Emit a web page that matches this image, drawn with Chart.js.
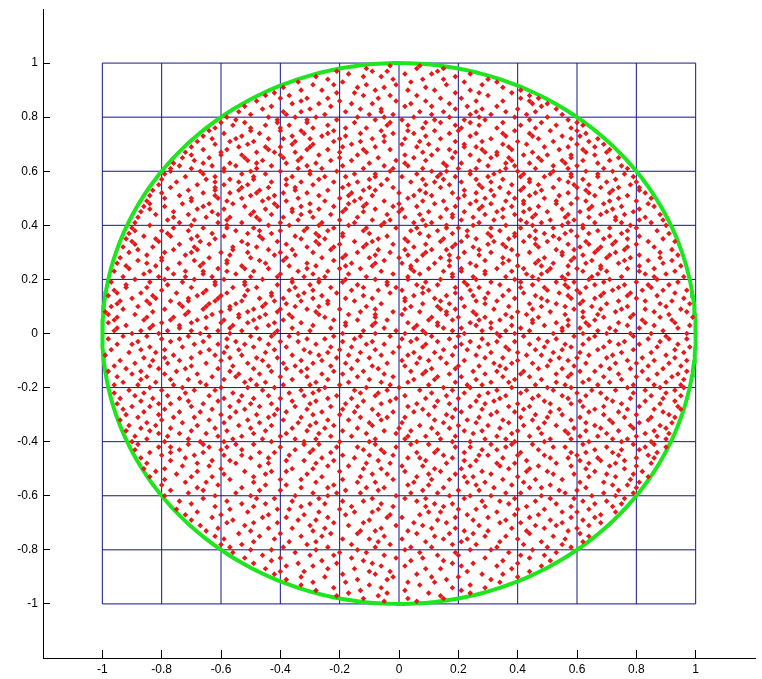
<!DOCTYPE html>
<html><head><meta charset="utf-8">
<script src="https://cdn.jsdelivr.net/npm/chart.js@4/dist/chart.umd.min.js"></script>
<style>html,body{margin:0;padding:0;background:#fff;overflow:hidden}canvas{display:block}</style>
</head><body>
<canvas id="c" width="762" height="679"></canvas>
<script>
// axis / tick values
const axisMin = -1.2, axisMax = 1.2;
const tickValues = [-1, -0.8, -0.6, -0.4, -0.2, 0, 0.2, 0.4, 0.6, 0.8, 1];
// grid lines drawn from -1 to 1
const gridValues = [-1, -0.8, -0.6, -0.4, -0.2, 0, 0.2, 0.4, 0.6, 0.8, 1];
const gridSpan = [-1, 1];
// circle
const circleRadius = 1;
// scatter dots: each row = [y, x1, x2, ...] in hundredths
const dotRows = [
[99,-3,7],
[98,-11,6,15],
[97,-21,-9,-4,13],
[96,-17,2,11,24],
[95,-28,-12,-6,19],
[94,-24,-2,8,15,30],
[93,-34,-19,4,22,33],
[92,-29,-22,-11,-1,16,28],
[91,-39,-14,-5,9,35],
[90,-33,-26,-8,3,12,24,41],
[89,-42,-21,-15,19,27,38],
[88,-45,-37,-12,-3,6,30,44],
[87,-40,-31,-24,-7,14,21,41,47],
[86,-48,-33,-20,-1,9,26,35,44],
[85,-36,-27,-16,-9,4,17,45,50],
[84,-52,-43,-23,2,11,23,33,48],
[83,-46,-30,-13,-6,19,28,40,53],
[82,-54,-39,-33,-18,-6,7,15,26,36,46],
[81,-50,-38,-25,-10,-2,11,24,31,43,55],
[80,-58,-44,-35,-28,-14,-5,5,17,27,39,50],
[79,-55,-41,-31,-21,-8,1,12,22,29,44,57],
[78,-60,-52,-41,-31,-15,-3,9,14,24,35,48,60],
[77,-56,-45,-37,-24,-4,3,19,27,41,53,62],
[76,-62,-50,-40,-29,-18,-11,8,21,33,46,58],
[75,-64,-50,-40,-33,-22,-6,3,12,20,39,51,60],
[74,-59,-47,-32,-24,-13,-2,5,17,26,35,44,63],
[73,-66,-53,-36,-26,-18,-5,9,24,36,45,55,61],
[72,-63,-55,-44,-39,-30,-20,-9,2,14,31,47,58,67],
[71,-68,-57,-49,-35,-22,-13,-5,7,19,28,40,52,64],
[70,-62,-51,-36,-29,-16,1,10,22,35,43,60,69],
[69,-70,-54,-45,-40,-30,-19,-8,6,22,26,37,49,57,66],
[68,-66,-58,-44,-31,-24,-12,-3,13,17,28,38,54,62,71],
[67,-72,-60,-48,-42,-35,-20,-11,8,19,29,33,45,63,70],
[66,-70,-60,-53,-40,-27,-14,2,11,24,33,42,50,58,66],
[65,-73,-64,-52,-39,-33,-20,-7,5,18,31,37,47,58,74],
[64,-69,-51,-46,-34,-23,-16,-1,9,27,38,48,55,62,71],
[63,-76,-66,-57,-48,-38,-28,-10,2,15,21,36,44,56,67],
[62,-74,-63,-55,-43,-31,-19,-5,3,16,30,39,52,60,75],
[61,-77,-70,-59,-48,-34,-26,-12,-2,8,20,26,36,46,57,69,77],
[60,-77,-67,-59,-50,-40,-30,-21,-3,11,16,24,34,40,52,63,72],
[59,-79,-66,-53,-45,-30,-15,-8,6,14,24,32,42,51,58,67,76],
[58,-72,-62,-49,-36,-25,-18,-8,1,13,19,30,41,49,58,67,79],
[57,-80,-65,-57,-49,-38,-27,-10,-4,8,15,26,35,44,54,62,73],
[56,-75,-62,-54,-43,-33,-22,-14,4,12,21,31,44,57,70,80],
[55,-81,-68,-59,-51,-38,-29,-17,-6,9,17,27,38,47,59,64,78],
[54,-77,-62,-53,-44,-35,-19,-10,-2,14,28,34,42,52,60,68,74,81],
[53,-83,-71,-62,-54,-47,-35,-24,-12,-8,7,22,31,41,48,63,72,81],
[52,-80,-66,-57,-48,-39,-31,-16,0,9,18,26,37,46,57,64,71,83],
[51,-84,-74,-62,-50,-42,-27,-17,-9,5,11,22,32,44,54,66,77],
[50,-79,-70,-61,-53,-44,-34,-20,-13,3,20,29,39,49,60,74,85],
[49,-85,-70,-58,-46,-38,-25,-15,-5,8,15,26,36,42,53,63,71,80],
[48,-84,-73,-64,-56,-42,-30,-17,-11,0,12,24,31,42,53,58,69,84],
[47,-86,-79,-66,-52,-41,-33,-22,-12,-2,6,19,28,38,47,65,75,86],
[46,-84,-68,-59,-45,-36,-27,-18,-8,1,16,27,35,44,55,64,72,81],
[45,-87,-76,-63,-49,-36,-30,-19,-12,0,10,22,33,42,50,61,70,79],
[44,-82,-71,-61,-50,-43,-33,-23,-4,7,18,29,39,46,57,68,76,88],
[43,-88,-76,-65,-57,-48,-39,-29,-14,2,14,18,25,35,45,56,64,73,83],
[42,-78,-69,-58,-47,-34,-20,-9,-3,8,21,32,41,51,59,73,81,89],
[41,-89,-74,-61,-53,-40,-26,-15,-5,5,11,27,43,48,57,66,75,85],
[40,-84,-70,-58,-44,-37,-27,-17,-6,9,16,25,36,45,55,62,78,90],
[39,-90,-76,-66,-58,-49,-31,-22,-11,-1,6,16,20,31,41,52,62,71,80],
[38,-89,-80,-71,-55,-47,-40,-32,-24,-12,4,13,23,34,46,58,67,77,87],
[37,-91,-78,-63,-51,-43,-28,-19,-10,7,18,30,39,49,56,64,75,91],
[36,-86,-77,-68,-59,-47,-35,-27,-19,-4,10,23,31,39,44,52,60,71,81],
[35,-92,-82,-70,-62,-46,-33,-25,-7,2,15,26,37,46,54,69,77,89],
[34,-90,-81,-67,-53,-41,-28,-15,-9,3,14,21,32,42,50,63,73,84,93],
[33,-89,-74,-64,-51,-38,-27,-20,-11,-2,9,19,30,35,46,57,64,72,80],
[32,-93,-83,-69,-56,-48,-31,-22,-12,5,18,25,36,47,61,68,77,86],
[31,-88,-76,-68,-56,-44,-36,-23,-7,2,11,16,27,38,53,59,67,76,92],
[30,-91,-79,-70,-60,-51,-40,-29,-14,-3,9,22,31,44,55,66,73,88],
[29,-85,-72,-57,-42,-35,-18,-8,3,8,17,27,40,55,62,71,81,94],
[28,-94,-80,-64,-50,-38,-26,-19,-10,0,14,20,35,49,59,70,78,88],
[27,-88,-80,-69,-58,-47,-39,-22,-5,6,17,29,37,47,58,65,76,84,92],
[26,-95,-85,-74,-66,-58,-45,-31,-16,-8,1,12,24,35,46,52,63,74,89],
[25,-92,-82,-67,-53,-37,-28,-18,-9,4,17,26,40,48,57,68,81,95],
[24,-91,-78,-61,-52,-44,-31,-20,-13,4,10,21,33,42,51,60,68,77,86],
[23,-96,-84,-72,-66,-58,-49,-34,-24,-6,5,15,21,29,38,50,62,70,81,93],
[22,-86,-76,-66,-55,-40,-29,-17,-2,7,18,29,43,48,57,67,83,90],
[21,-93,-81,-72,-63,-50,-41,-32,-25,-11,3,18,25,36,45,55,65,75,86,96],
[20,-89,-79,-69,-59,-46,-36,-27,-18,-8,3,14,26,39,47,56,64,71,87],
[19,-97,-84,-73,-62,-52,-36,-27,-19,-4,9,22,31,41,53,59,69,80,94],
[18,-92,-78,-62,-52,-41,-30,-14,-4,6,13,23,34,45,56,66,76,84,91],
[17,-92,-85,-70,-56,-48,-35,-23,-12,-1,8,19,27,41,49,57,63,74,85],
[16,-96,-80,-65,-51,-37,-29,-16,-7,1,10,24,37,50,60,72,82,89,97],
[15,-95,-87,-75,-66,-58,-43,-32,-21,-3,8,19,30,42,54,61,69,78,93],
[14,-98,-83,-68,-60,-52,-43,-34,-26,-12,5,16,25,35,46,57,68,77,87],
[13,-90,-82,-71,-61,-47,-39,-29,-18,-9,2,12,21,29,39,48,58,66,80,96],
[12,-94,-85,-77,-71,-62,-53,-42,-33,-24,-15,2,14,26,33,50,62,74,83,92],
[11,-95,-84,-74,-64,-55,-45,-38,-24,-6,8,17,29,44,53,61,70,88,98],
[10,-97,-88,-73,-65,-57,-46,-35,-27,-11,4,13,22,37,48,56,65,77,90],
[9,-93,-79,-66,-57,-49,-40,-31,-20,-8,2,14,19,32,45,59,68,75,83,95],
[8,-99,-83,-71,-60,-51,-41,-28,-13,-2,7,16,25,40,51,62,73,86,97],
[7,-98,-89,-72,-63,-54,-45,-37,-27,-17,-8,1,16,26,36,43,56,67,79,91],
[6,-95,-85,-76,-65,-54,-47,-36,-25,-8,11,20,29,38,47,62,69,78,88,99],
[5,-96,-86,-77,-68,-59,-49,-39,-22,-14,-4,10,18,27,34,45,57,66,82,92],
[4,-98,-80,-70,-60,-51,-42,-33,-18,-8,3,13,24,31,45,53,63,74,83,93],
[3,-92,-83,-74,-56,-44,-29,-18,-9,6,13,26,38,49,57,64,77,86,98],
[2,-95,-84,-74,-65,-57,-48,-36,-23,-5,5,15,21,31,41,55,61,71,81,94],
[1,-96,-87,-78,-70,-61,-53,-41,-30,-12,-1,8,18,28,36,44,55,67,73,89],
[0,-90,-81,-67,-57,-42,-34,-19,-8,2,9,22,33,39,52,62,70,78,85,97],
[-1,-93,-85,-71,-64,-50,-43,-37,-22,-13,-3,11,20,34,42,59,66,79,90],
[-2,-98,-80,-74,-58,-47,-31,-25,-15,1,6,17,28,47,53,64,84,91,97],
[-3,-88,-77,-66,-55,-40,-34,-19,-9,4,13,24,33,39,50,71,76,88],
[-4,-95,-90,-69,-61,-52,-44,-28,-11,-5,9,21,30,44,56,62,74,81,94],
[-5,-84,-73,-58,-49,-38,-23,-16,0,8,19,27,36,49,58,69,87,98],
[-6,-97,-87,-79,-64,-54,-42,-32,-20,-8,15,23,37,46,55,67,79,93],
[-7,-91,-82,-67,-59,-45,-30,-24,-13,-2,5,12,31,40,52,61,75,85,96],
[-8,-99,-76,-62,-53,-36,-27,-17,-6,3,18,26,43,48,64,72,90],
[-9,-86,-79,-70,-57,-48,-41,-21,-10,7,14,29,35,54,60,70,82,93],
[-10,-94,-83,-74,-60,-46,-33,-26,-14,1,10,22,40,51,57,77,86,97],
[-11,-89,-78,-65,-51,-39,-29,-18,-4,6,16,32,38,45,63,73,80,91],
[-12,-96,-84,-70,-56,-44,-35,-23,-9,2,20,27,34,50,59,68,84,95],
[-13,-92,-81,-72,-61,-49,-38,-31,-16,-7,11,19,36,47,55,71,78,89],
[-14,-98,-87,-75,-57,-43,-33,-22,-12,4,9,25,33,42,61,66,82,97],
[-15,-90,-79,-68,-54,-47,-26,-19,-5,8,17,29,41,53,58,74,87,94],
[-16,-95,-85,-63,-55,-40,-31,-14,-2,13,21,35,44,57,69,80,92],
[-17,-87,-77,-71,-59,-50,-36,-24,-10,5,12,26,39,48,64,75,84,96],
[-18,-93,-82,-67,-52,-45,-28,-17,-6,3,19,31,37,53,62,71,90],
[-19,-96,-88,-76,-65,-48,-39,-30,-20,-3,10,23,28,46,56,67,79,86,95],
[-20,-84,-73,-60,-51,-42,-25,-11,0,15,24,38,50,58,77,88,96],
[-21,-91,-80,-69,-62,-46,-33,-27,-15,-4,7,18,33,43,52,65,73,83,93],
[-22,-96,-86,-72,-56,-37,-29,-13,-7,11,22,30,41,60,68,79,90],
[-23,-89,-78,-64,-53,-44,-32,-21,-8,2,16,27,36,47,55,63,85,95],
[-24,-94,-83,-74,-59,-49,-40,-24,-16,-1,9,20,34,45,57,70,78,89],
[-25,-87,-71,-61,-54,-36,-28,-12,-3,13,26,32,49,61,72,83,93],
[-26,-95,-81,-77,-66,-50,-43,-30,-18,-6,6,17,29,40,51,58,75,88],
[-27,-90,-84,-70,-57,-47,-35,-23,-14,3,12,24,37,44,62,69,81,94],
[-28,-93,-79,-63,-52,-41,-31,-19,-9,8,19,28,42,54,66,77,86,95],
[-29,-86,-74,-67,-55,-38,-26,-15,-2,5,21,33,39,51,64,74,89],
[-30,-92,-81,-60,-48,-42,-29,-20,-7,10,16,31,46,55,69,80,91],
[-31,-88,-76,-69,-57,-44,-33,-13,-4,2,18,27,41,50,61,76,85,93],
[-32,-94,-80,-64,-51,-39,-24,-17,-6,12,23,35,45,58,71,84],
[-33,-85,-73,-59,-47,-34,-28,-10,1,15,26,37,49,63,72,81,92],
[-34,-91,-82,-68,-54,-43,-30,-22,-9,7,20,30,42,53,66,78,88],
[-35,-87,-77,-62,-50,-36,-25,-14,0,11,17,34,47,59,68,79,90],
[-36,-92,-84,-70,-58,-45,-31,-19,-5,4,22,28,40,56,63,74,86],
[-37,-81,-74,-65,-49,-38,-27,-11,-1,13,25,38,48,57,70,83,91],
[-38,-89,-78,-61,-53,-40,-23,-16,3,9,19,33,44,61,67,80,87],
[-39,-85,-71,-56,-46,-35,-28,-8,2,14,29,36,51,58,72,77,90],
[-40,-90,-79,-67,-59,-43,-32,-20,-10,6,18,24,39,49,64,75,85],
[-41,-88,-71,-66,-55,-49,-32,-27,-8,4,10,31,38,45,62,79,86],
[-42,-81,-77,-64,-58,-40,-21,-14,-1,19,24,36,52,56,70,83,90],
[-43,-89,-74,-60,-53,-35,-29,-12,-6,13,28,33,47,66,75,81],
[-44,-84,-77,-66,-47,-42,-30,-23,-5,6,12,22,41,58,63,72,87],
[-45,-80,-69,-59,-53,-37,-19,-10,-2,15,27,30,40,49,60,74,84],
[-46,-87,-72,-50,-44,-26,-15,3,7,18,35,51,57,67,80,86],
[-47,-77,-63,-57,-38,-32,-22,-7,9,22,26,43,61,68,76],
[-48,-85,-68,-55,-44,-28,-11,-3,16,33,39,53,64,73,85],
[-49,-73,-64,-47,-24,-17,1,8,24,34,47,58,71,80],
[-50,-86,-79,-60,-36,-29,-12,-6,12,21,37,44,63,76],
[-51,-82,-68,-52,-43,-38,-20,2,14,28,43,50,66,82],
[-52,-75,-59,-45,-31,-9,-4,10,19,31,52,59,70,79],
[-53,-84,-70,-63,-49,-26,-13,6,22,25,40,64,73,84],
[-54,-79,-57,-40,-33,-19,-2,11,17,35,46,55,78],
[-55,-72,-65,-49,-28,-14,-8,5,23,29,42,61,69,81],
[-56,-80,-61,-45,-38,-22,3,10,26,38,51,72,77],
[-57,-68,-53,-33,-24,-11,-5,15,32,44,48,63,80],
[-58,-77,-66,-47,-40,-18,-7,8,20,27,54,60,74],
[-59,-71,-55,-29,-21,-13,4,13,36,41,56,69,79],
[-60,-79,-62,-50,-35,-24,-1,17,24,31,48,65,73],
[-61,-66,-48,-42,-27,-9,2,9,22,39,51,59,76],
[-62,-74,-58,-36,-19,-12,6,28,34,46,62,70],
[-63,-70,-53,-45,-30,-25,-6,12,18,37,53,66,75],
[-64,-62,-49,-33,-16,-2,9,15,29,43,58,72],
[-65,-75,-57,-41,-37,-20,-7,20,26,40,49,64],
[-66,-68,-51,-27,-15,-9,10,14,33,55,60,73],
[-67,-72,-60,-44,-32,-18,-3,7,23,39,47,68],
[-68,-63,-46,-38,-24,-4,1,19,30,44,58,66],
[-69,-70,-56,-34,-28,-10,13,25,36,51,62],
[-70,-58,-49,-41,-22,-12,5,16,34,41,55,68],
[-71,-67,-52,-30,-17,-1,8,27,46,53,64],
[-72,-61,-44,-36,-25,-6,11,19,38,49,60],
[-73,-65,-50,-29,-13,-8,3,22,30,43,57],
[-74,-54,-40,-23,-14,6,17,25,44,61],
[-75,-62,-47,-33,-26,-5,12,29,36,52,64],
[-76,-59,-42,-19,-10,1,15,23,40,56],
[-77,-49,-37,-28,-7,9,21,34,48,62],
[-78,-60,-53,-31,-16,-3,18,26,42,55],
[-79,-57,-39,-24,-8,4,11,33,50,58],
[-80,-50,-43,-28,-14,2,24,31,45],
[-81,-56,-35,-20,-11,7,19,37,53],
[-82,-46,-30,-22,-5,13,20,41,49],
[-83,-52,-40,-16,-1,8,29,44],
[-84,-43,-26,-12,4,15,35,51],
[-85,-49,-34,-21,-9,18,25,40],
[-86,-38,-29,-6,2,21,33,48],
[-87,-45,-24,-15,9,14,38],
[-88,-40,-32,-10,-3,23,44],
[-89,-42,-19,-8,6,28,35],
[-90,-33,-25,-2,11,20,40],
[-91,-38,-14,-4,16,31],
[-92,-29,-18,3,12,34],
[-93,-33,-10,7,24],
[-94,-22,-6,18,29],
[-95,-28,-13,2,21],
[-96,-17,-4,10,24],
[-97,-21,-7,14],
[-98,-12,3,15],
[-99,-5,6]
];

// ---- build datasets from the data above ----
const dotPoints = [];
dotRows.forEach(row => {
  const y = row[0] / 100;
  for (let i = 1; i < row.length; i++) dotPoints.push({x: row[i] / 100, y: y});
});

const circlePoints = [];
for (let a = 0; a <= 360; a += 1) {
  const t = a * Math.PI / 180;
  circlePoints.push({x: circleRadius * Math.cos(t), y: circleRadius * Math.sin(t)});
}

const gridColor = '#14148c';
const datasets = [
  {
    label: 'points', data: dotPoints, order: 0,
    pointStyle: 'rectRot', pointRadius: 2.8, pointHoverRadius: 2.8,
    backgroundColor: '#e41a1a', borderWidth: 0, showLine: false
  },
  {
    label: 'circle', data: circlePoints, order: 1,
    showLine: true, borderColor: '#1ee61e', borderWidth: 4, pointRadius: 0,
    tension: 0, fill: false
  }
];
gridValues.forEach(v => {
  datasets.push({label: 'h', data: [{x: gridSpan[0], y: v}, {x: gridSpan[1], y: v}], order: 2,
    showLine: true, borderColor: gridColor, borderWidth: 1, pointRadius: 0, fill: false});
  datasets.push({label: 'v', data: [{x: v, y: gridSpan[0]}, {x: v, y: gridSpan[1]}], order: 2,
    showLine: true, borderColor: gridColor, borderWidth: 1, pointRadius: 0, fill: false});
});

const fmt = v => String(Math.round(v * 10) / 10);
const tickFont = {family: '"Liberation Sans", Arial, sans-serif', size: 12};

new Chart(document.getElementById('c'), {
  type: 'scatter',
  data: {datasets},
  options: {
    responsive: false,
    devicePixelRatio: 1,
    animation: false,
    events: [],
    layout: {padding: {top: 9, right: 7, left: 0, bottom: 0}},
    plugins: {legend: {display: false}, tooltip: {enabled: false}},
    scales: {
      x: {
        type: 'linear', min: axisMin, max: axisMax,
        afterBuildTicks: s => { s.ticks = tickValues.map(v => ({value: v})); },
        afterFit: s => { s.height = 21; s.paddingLeft = 0; s.paddingRight = 0; },
        grid: {display: true, drawOnChartArea: false, drawTicks: true, tickLength: -8, color: '#000', lineWidth: 1},
        border: {display: true, color: '#000', width: 1},
        ticks: {color: '#000', font: tickFont, padding: 12, maxRotation: 0, autoSkip: false, callback: fmt}
      },
      y: {
        type: 'linear', min: axisMin, max: axisMax,
        afterBuildTicks: s => { s.ticks = tickValues.map(v => ({value: v})); },
        afterFit: s => { s.width = 43; s.paddingTop = 0; s.paddingBottom = 0; },
        grid: {display: true, drawOnChartArea: false, drawTicks: true, tickLength: -7, color: '#000', lineWidth: 1},
        border: {display: true, color: '#000', width: 1},
        ticks: {color: '#000', font: tickFont, padding: 12, autoSkip: false, callback: fmt}
      }
    }
  }
});
</script>
</body></html>
